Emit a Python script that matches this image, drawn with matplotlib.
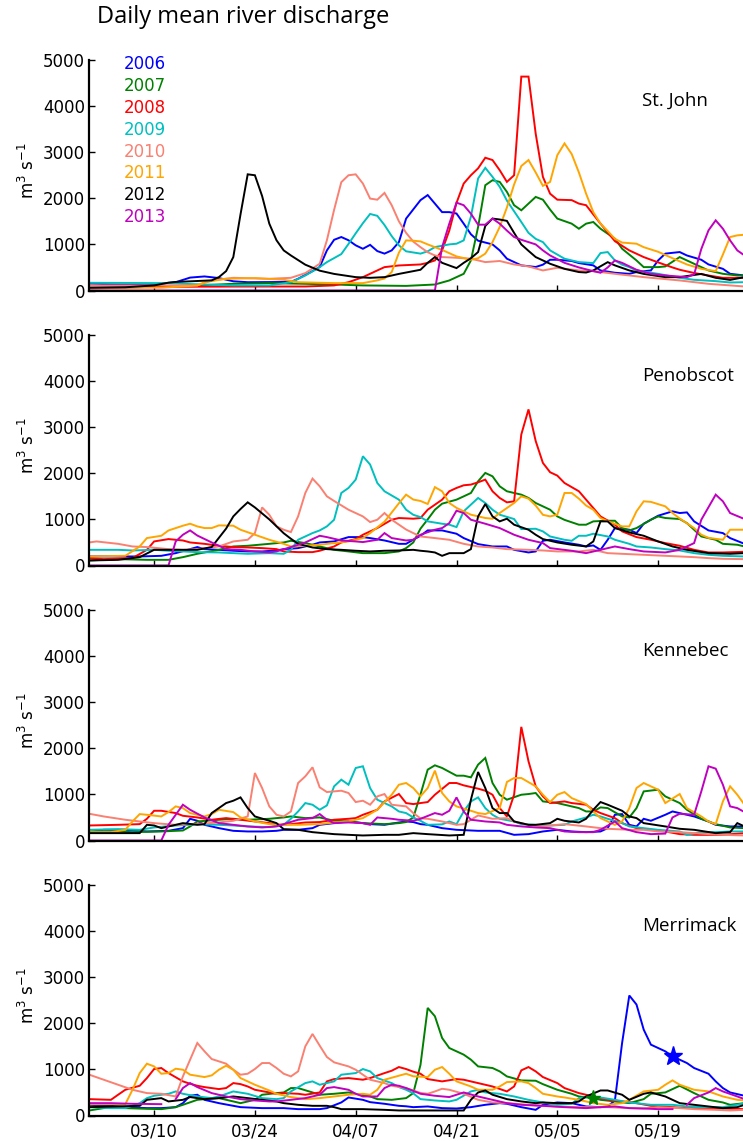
import datetime as dt
import numpy as np
import matplotlib
matplotlib.use("Agg")
import matplotlib.pyplot as plt

# Daily mean discharge (m3/s), given as (day since 03/01, value) pairs.
# 2013 is zero before its record starts; nan marks a gap in the record.
nan = float("nan")

st_john_2006 = [(0,150),(4,130),(8,120),(12,180),(14,280),(16,305),(18,270),(20,200),(22,180),(28,185),(29,255),(31,420),(32,510),(33,870),(34,1100),(35,1160),(36,1090),(37,980),(38,905),(39,990),(40,855),(41,800),(42,870),(43,1050),(44,1560),(46,1960),(47,2070),(48,1885),(49,1700),(50,1700),(51,1670),(52,1450),(53,1220),(54,1080),(56,1000),(57,870),(58,690),(60,545),(62,510),(63,560),(64,667),(65,667),(67,640),(68,595),(70,545),(71,435),(73,385),(75,362),(76,400),(78,435),(79,652),(80,800),(82,834),(83,760),(85,667),(86,565),(88,470),(89,362),(91,326)]
st_john_2007 = [(0,45),(5,60),(10,87),(15,110),(20,145),(25,160),(30,145),(34,130),(38,110),(44,100),(48,130),(50,218),(52,362),(53,652),(54,1378),(55,2284),(56,2392),(57,2356),(58,2140),(59,1850),(60,1740),(61,1885),(62,2030),(63,1970),(64,1755),(65,1560),(67,1450),(68,1340),(69,1450),(70,1486),(71,1340),(73,1124),(74,906),(76,652),(77,507),(79,507),(80,522),(82,725),(83,652),(85,507),(86,435),(88,362),(90,326),(91,326)]
st_john_2008 = [(0,60),(10,80),(20,85),(30,87),(34,110),(36,180),(38,290),(40,435),(41,507),(43,543),(46,565),(47,600),(48,652),(49,870),(50,1300),(51,1900),(52,2320),(53,2500),(54,2650),(55,2880),(56,2830),(57,2610),(58,2356),(59,2500),(60,4640),(61,4640),(62,3400),(63,2465),(64,2100),(65,1970),(67,1960),(68,1885),(69,1850),(70,1650),(71,1450),(72,1260),(73,1070),(75,870),(77,725),(79,610),(81,500),(82,450),(84,380),(86,326),(88,275),(91,275)]
st_john_2009 = [(0,167),(10,160),(20,110),(25,110),(28,180),(30,325),(32,507),(33,616),(35,790),(36,1010),(37,1240),(38,1460),(39,1660),(40,1620),(41,1420),(42,1180),(43,980),(44,850),(46,800),(47,850),(48,942),(50,1000),(51,1015),(52,1087),(53,1600),(54,2430),(55,2660),(56,2465),(57,2250),(58,1950),(60,1486),(61,1250),(62,1120),(63,1050),(64,870),(66,690),(68,616),(70,595),(71,812),(72,834),(73,652),(74,560),(75,507),(76,435),(79,362),(82,275),(84,232),(87,203),(89,174),(91,180)]
st_john_2010 = [(0,110),(15,110),(17,218),(20,275),(25,254),(28,275),(30,377),(32,580),(33,1090),(34,1750),(35,2350),(36,2500),(37,2520),(38,2320),(39,1994),(40,1970),(41,2117),(42,1850),(43,1500),(44,1250),(45,1060),(46,940),(47,830),(48,760),(49,725),(51,710),(53,690),(55,616),(57,640),(59,565),(61,522),(63,435),(65,493),(68,435),(70,420),(73,362),(77,290),(82,218),(86,145),(91,87)]
st_john_2011 = [(0,58),(10,60),(15,110),(16,180),(19,254),(23,268),(27,232),(29,180),(34,160),(38,160),(40,220),(41,260),(42,400),(43,820),(44,1087),(45,1080),(46,1065),(47,1000),(48,940),(49,880),(51,740),(53,667),(54,700),(55,800),(56,1050),(57,1378),(58,1800),(59,2300),(60,2700),(61,2830),(62,2560),(63,2270),(64,2356),(65,2935),(66,3190),(67,2960),(68,2560),(69,2100),(70,1700),(71,1450),(72,1290),(73,1120),(74,1040),(76,1015),(77,940),(79,840),(81,700),(83,565),(85,470),(87,420),(88,780),(89,1160),(90,1196),(91,1210)]
st_john_2012 = [(0,60),(5,70),(9,110),(11,170),(12,185),(17,220),(18,290),(19,420),(20,725),(21,1650),(22,2520),(23,2500),(24,2050),(25,1450),(26,1090),(27,870),(28,760),(29,660),(30,560),(32,430),(34,360),(37,290),(39,275),(41,290),(43,360),(45,420),(46,450),(47,600),(48,725),(49,600),(51,486),(52,600),(53,700),(54,834),(55,1400),(56,1560),(57,1540),(58,1510),(59,1250),(60,1000),(61,860),(62,725),(64,580),(66,470),(68,400),(69,390),(70,435),(72,615),(73,545),(75,435),(77,360),(80,290),(82,290),(85,360),(87,275),(89,230),(91,290)]
st_john_2013 = [(0,0),(48,0),(49,940),(50,1450),(51,1906),(52,1850),(53,1667),(54,1428),(55,1428),(56,1560),(57,1450),(58,1300),(59,1160),(60,1100),(62,1000),(63,870),(64,760),(66,600),(68,500),(70,420),(71,385),(72,500),(73,652),(74,600),(76,450),(78,362),(80,326),(83,290),(84,350),(85,900),(86,1305),(87,1522),(88,1340),(89,1087),(90,870),(91,760)]

penobscot_2006 = [(0,196),(7,196),(10,210),(12,268),(14,355),(15,400),(16,355),(18,340),(20,320),(22,305),(24,305),(26,326),(27,355),(29,377),(31,450),(32,500),(34,522),(36,616),(38,616),(39,595),(41,543),(43,470),(44,470),(45,560),(46,645),(47,761),(49,761),(51,689),(52,595),(54,464),(56,413),(58,413),(59,340),(61,283),(62,305),(63,536),(64,558),(66,500),(68,450),(69,413),(70,435),(71,340),(72,558),(73,812),(75,776),(76,703),(77,906),(79,1080),(81,1175),(82,1138),(83,1152),(84,957),(86,761),(88,703),(89,595),(91,470)]
penobscot_2007 = [(0,109),(4,138),(8,123),(11,123),(13,181),(15,254),(18,340),(20,413),(22,428),(25,470),(27,500),(28,536),(30,486),(32,413),(34,340),(36,305),(38,268),(41,268),(43,305),(44,377),(45,500),(46,800),(47,1000),(48,1210),(49,1341),(51,1428),(52,1500),(53,1573),(54,1827),(55,2008),(56,1935),(57,1718),(58,1610),(60,1537),(61,1465),(62,1356),(64,1210),(65,1065),(66,990),(68,885),(69,885),(70,957),(72,971),(73,971),(74,812),(75,761),(76,812),(78,993),(79,1065),(80,1030),(82,1008),(83,920),(84,776),(85,630),(87,558),(88,470),(90,450),(91,413)]
penobscot_2008 = [(0,160),(2,138),(6,160),(8,340),(9,522),(11,573),(13,543),(14,500),(16,470),(18,428),(20,400),(22,391),(24,377),(26,355),(27,305),(29,290),(31,290),(32,320),(34,413),(35,500),(37,573),(38,667),(40,812),(42,993),(43,1030),(45,1015),(46,1030),(47,1210),(49,1428),(50,1610),(51,1682),(52,1740),(53,1755),(54,1805),(55,1863),(56,1610),(57,1465),(58,1370),(59,1392),(60,2842),(61,3386),(62,2700),(63,2225),(64,2023),(65,1950),(66,1790),(68,1610),(69,1428),(70,1247),(71,1065),(73,885),(74,740),(76,616),(78,558),(80,486),(82,428),(84,340),(86,283),(88,283),(91,297)]
penobscot_2009 = [(0,340),(4,340),(6,326),(9,340),(11,320),(13,305),(15,290),(18,283),(20,268),(22,254),(25,268),(27,254),(28,340),(29,558),(31,703),(32,761),(33,848),(34,993),(35,1573),(36,1682),(37,1863),(38,2370),(39,2190),(40,1790),(41,1610),(43,1428),(44,1210),(45,1100),(46,1050),(47,957),(49,906),(50,885),(51,834),(52,1175),(54,1465),(55,1356),(56,1210),(57,1102),(59,1008),(60,790),(62,797),(63,740),(64,630),(66,558),(67,536),(68,645),(69,645),(70,689),(72,630),(73,558),(75,470),(76,413),(78,391),(80,355),(82,326),(84,268),(86,232),(88,210),(91,196)]
penobscot_2010 = [(0,500),(1,522),(4,470),(6,413),(8,400),(11,355),(13,340),(15,355),(18,413),(20,522),(22,558),(23,703),(24,1260),(25,1100),(26,850),(27,776),(28,725),(29,1065),(30,1573),(31,1885),(32,1718),(33,1500),(34,1400),(36,1210),(38,1065),(39,942),(40,993),(41,1138),(42,993),(44,780),(45,703),(46,630),(48,595),(50,558),(52,470),(54,413),(56,391),(58,355),(61,340),(63,326),(65,305),(68,305),(70,340),(72,268),(75,246),(77,232),(79,217),(82,196),(84,181),(86,160),(88,145),(91,138)]
penobscot_2011 = [(0,196),(5,210),(7,413),(8,595),(10,645),(11,760),(13,863),(14,906),(15,848),(16,812),(17,812),(18,870),(20,863),(21,776),(23,667),(25,558),(27,470),(28,413),(30,428),(32,450),(34,486),(36,522),(38,595),(39,703),(41,950),(42,1150),(43,1350),(44,1537),(45,1430),(46,1400),(47,1334),(48,1700),(49,1610),(50,1356),(51,1250),(53,1102),(55,1030),(56,1015),(57,1138),(59,1356),(60,1500),(61,1450),(62,1300),(63,1100),(64,1065),(65,1102),(66,1573),(67,1573),(68,1450),(69,1300),(70,1210),(71,1030),(72,960),(74,848),(75,848),(76,1175),(77,1392),(78,1380),(80,1283),(81,1138),(82,1020),(84,812),(85,667),(86,600),(88,558),(89,776),(91,776)]
penobscot_2012 = [(0,109),(4,123),(7,181),(9,340),(12,340),(15,340),(17,400),(18,600),(19,800),(20,1065),(21,1225),(22,1370),(23,1260),(24,1130),(25,1000),(26,850),(27,700),(28,580),(29,470),(31,391),(33,355),(35,340),(37,320),(39,305),(41,320),(43,326),(45,340),(46,320),(47,305),(48,283),(49,210),(50,268),(52,268),(53,355),(54,1065),(55,1334),(56,1065),(57,957),(58,1015),(59,885),(61,776),(62,667),(63,573),(65,500),(67,450),(69,413),(70,522),(71,957),(72,957),(73,812),(75,718),(77,645),(79,522),(81,413),(83,340),(86,268),(89,254),(91,268)]
penobscot_2013 = [(0,0),(11,0),(12,522),(13,667),(14,761),(15,650),(17,500),(19,355),(21,340),(23,305),(25,283),(26,305),(28,400),(30,500),(32,645),(33,616),(35,543),(37,522),(38,508),(40,558),(41,703),(42,595),(44,543),(45,558),(46,667),(48,776),(49,812),(50,920),(51,1189),(52,1138),(53,993),(55,906),(57,812),(59,667),(61,558),(63,486),(64,377),(67,320),(69,268),(71,340),(73,413),(75,355),(77,305),(80,283),(82,340),(84,486),(85,993),(87,1537),(88,1392),(89,1138),(91,1008)]

kennebec_2006 = [(0,181),(2,232),(5,232),(8,196),(11,210),(13,268),(14,471),(15,428),(16,340),(18,268),(20,210),(22,196),(24,196),(26,210),(27,232),(29,232),(31,268),(32,340),(34,377),(36,413),(38,377),(39,355),(41,340),(43,391),(44,413),(45,400),(46,355),(47,340),(49,268),(51,232),(54,210),(57,210),(59,123),(61,138),(63,196),(65,232),(67,196),(69,181),(71,196),(72,268),(73,558),(74,573),(75,340),(76,305),(77,471),(78,428),(80,558),(81,630),(83,558),(84,522),(86,413),(87,340),(89,305),(91,305)]
kennebec_2007 = [(0,196),(4,196),(6,181),(10,196),(13,217),(14,305),(15,413),(18,450),(20,471),(22,450),(25,471),(27,500),(28,522),(30,486),(32,500),(34,428),(36,413),(38,377),(41,355),(43,377),(44,400),(45,500),(46,1000),(47,1537),(48,1631),(49,1573),(51,1406),(52,1406),(53,1370),(54,1646),(55,1790),(56,1247),(57,993),(58,885),(60,993),(61,1008),(62,1030),(63,848),(65,812),(66,776),(68,703),(69,630),(70,630),(71,718),(72,703),(74,522),(75,500),(76,703),(77,1065),(79,1102),(80,957),(82,812),(83,667),(85,471),(87,355),(89,283),(91,268)]
kennebec_2008 = [(0,326),(4,340),(7,355),(8,471),(9,645),(10,645),(12,595),(13,536),(15,500),(17,450),(19,486),(21,450),(23,413),(25,377),(26,340),(28,355),(30,391),(32,400),(34,450),(36,471),(37,486),(38,558),(40,667),(41,848),(43,1008),(44,812),(45,790),(47,834),(48,993),(50,1247),(51,1247),(52,1196),(54,1124),(55,1080),(56,993),(57,703),(58,522),(59,993),(60,2465),(61,1718),(62,1175),(63,957),(64,812),(66,848),(67,812),(69,776),(70,667),(71,595),(73,486),(74,377),(76,268),(78,232),(80,196),(82,138),(84,123),(88,123),(91,160)]
kennebec_2009 = [(0,232),(4,246),(7,232),(9,283),(12,326),(14,340),(15,355),(18,340),(20,326),(22,305),(25,290),(27,340),(28,471),(29,630),(30,812),(31,776),(32,667),(33,761),(34,1175),(35,1320),(36,1210),(37,1573),(38,1610),(39,1138),(40,885),(42,740),(43,630),(44,595),(45,500),(46,428),(47,340),(49,350),(50,413),(51,355),(52,630),(53,848),(54,935),(55,703),(56,558),(57,471),(59,413),(60,355),(62,340),(64,326),(66,340),(67,413),(69,500),(70,558),(71,522),(72,471),(74,377),(75,305),(77,268),(79,232),(82,196),(83,123),(85,181),(87,181),(89,196),(91,196)]
kennebec_2010 = [(0,580),(2,522),(5,450),(7,413),(9,377),(12,340),(14,355),(16,370),(18,391),(20,428),(22,522),(23,1464),(24,1138),(25,740),(26,558),(27,522),(28,630),(29,1247),(30,1392),(31,1588),(32,1153),(33,1051),(35,1080),(36,1030),(37,834),(38,863),(39,776),(40,957),(41,1008),(42,776),(44,740),(45,595),(46,480),(47,471),(49,413),(51,340),(52,355),(54,543),(56,471),(58,486),(59,413),(61,340),(63,305),(65,340),(66,355),(69,305),(71,268),(72,254),(75,232),(77,232),(79,196),(82,181),(84,160),(86,138),(88,123),(91,109)]
kennebec_2011 = [(0,181),(3,181),(5,232),(6,413),(7,573),(8,558),(10,522),(11,616),(12,740),(13,703),(14,595),(16,522),(17,573),(18,667),(20,616),(21,500),(23,413),(25,355),(27,340),(29,340),(32,355),(34,391),(36,413),(38,486),(40,667),(42,993),(43,1210),(44,1247),(45,1138),(46,960),(47,1138),(48,1515),(49,1030),(50,848),(51,740),(53,645),(54,595),(55,573),(57,703),(58,1269),(59,1356),(60,1356),(62,1175),(63,993),(64,834),(65,993),(66,1051),(67,920),(69,790),(70,630),(71,486),(73,340),(74,413),(75,703),(76,1138),(77,1247),(79,1102),(80,812),(82,1008),(83,703),(85,522),(86,413),(87,355),(88,848),(89,1175),(90,993),(91,776)]
kennebec_2012 = [(0,160),(7,160),(8,340),(9,326),(10,268),(12,340),(13,377),(15,340),(16,355),(17,595),(19,812),(20,863),(21,935),(22,703),(23,522),(25,428),(26,377),(27,246),(29,232),(31,181),(34,138),(36,123),(38,109),(41,123),(43,123),(45,160),(47,138),(50,109),(52,123),(53,885),(54,1486),(55,1138),(56,703),(57,595),(58,595),(59,413),(61,340),(62,340),(64,377),(65,471),(66,428),(68,391),(69,471),(70,667),(71,834),(72,776),(74,645),(75,522),(76,486),(77,377),(80,305),(82,254),(84,232),(87,160),(89,181),(90,377),(91,305)]
kennebec_2013 = [(0,0),(10,0),(11,340),(12,558),(13,776),(14,667),(16,500),(18,377),(20,340),(22,305),(24,283),(26,305),(27,355),(29,450),(31,486),(32,573),(33,450),(34,377),(36,391),(38,377),(39,340),(40,500),(42,471),(43,450),(45,428),(46,471),(48,595),(49,558),(50,645),(51,935),(52,630),(53,450),(55,413),(57,391),(58,340),(60,305),(62,283),(64,268),(66,196),(68,181),(70,181),(71,232),(73,413),(74,268),(76,181),(78,138),(80,150),(81,500),(82,580),(84,558),(85,1065),(86,1610),(87,1559),(88,1210),(89,740),(90,703),(91,616)]

merrimack_2006 = [(0,232),(3,210),(5,181),(8,160),(10,160),(12,181),(13,268),(14,428),(15,450),(16,340),(18,268),(20,210),(21,181),(24,160),(27,160),(29,138),(32,138),(33,160),(35,283),(36,391),(38,340),(39,290),(41,254),(43,210),(44,200),(45,181),(47,196),(49,160),(51,152),(53,181),(55,232),(57,268),(58,254),(60,181),(62,123),(63,232),(65,283),(67,268),(69,196),(71,181),(72,196),(73,326),(74,1573),(75,2603),(76,2407),(77,1863),(78,1537),(80,1392),(81,1283),(83,1138),(84,1030),(86,906),(87,740),(88,595),(89,500),(91,428)]
merrimack_2007 = [(0,109),(2,160),(3,181),(5,160),(8,145),(10,138),(12,181),(13,232),(15,340),(16,355),(18,377),(20,305),(21,268),(23,340),(24,450),(26,486),(27,500),(28,595),(29,595),(31,500),(32,450),(34,471),(36,500),(37,471),(39,413),(40,355),(42,340),(44,377),(45,486),(46,1100),(47,2334),(48,2153),(49,1682),(50,1464),(52,1320),(53,1211),(54,1065),(56,1030),(57,957),(58,848),(60,761),(62,754),(63,680),(65,558),(67,471),(68,413),(70,377),(71,340),(73,305),(75,268),(77,355),(78,471),(80,500),(82,645),(84,486),(86,340),(88,283),(89,232),(91,268)]
merrimack_2008 = [(0,355),(3,340),(4,450),(5,558),(7,645),(8,812),(9,1008),(10,1030),(11,920),(13,740),(14,689),(15,645),(16,616),(18,573),(19,595),(20,703),(21,681),(22,630),(23,558),(25,500),(26,471),(27,486),(29,471),(30,450),(32,500),(33,740),(34,790),(36,812),(38,776),(39,812),(41,920),(42,971),(43,1051),(44,1008),(45,950),(46,906),(47,790),(49,740),(51,790),(52,776),(54,703),(56,630),(58,522),(59,630),(60,979),(61,1051),(62,957),(63,834),(65,703),(66,595),(68,486),(70,413),(72,340),(74,305),(76,268),(78,210),(81,181),(83,160),(86,160),(88,152),(91,138)]
merrimack_2009 = [(0,181),(3,160),(5,160),(7,268),(8,377),(9,428),(11,471),(12,522),(13,471),(15,413),(17,377),(18,413),(20,522),(22,471),(24,377),(26,355),(27,377),(28,522),(30,703),(31,740),(32,667),(34,740),(35,885),(37,920),(38,1008),(39,957),(40,812),(42,703),(43,616),(44,558),(45,480),(46,355),(48,326),(50,305),(51,340),(53,522),(54,558),(55,500),(57,471),(59,413),(61,340),(63,283),(65,232),(67,254),(68,377),(70,413),(71,391),(73,340),(75,283),(78,232),(81,232),(83,196),(85,181),(88,181),(90,232),(91,268)]
merrimack_2010 = [(0,885),(2,776),(4,667),(6,558),(8,486),(10,471),(12,413),(13,848),(14,1211),(15,1573),(16,1392),(17,1225),(19,1124),(20,993),(21,885),(22,906),(23,1008),(24,1138),(25,1138),(26,1030),(27,906),(28,848),(29,957),(30,1500),(31,1769),(32,1515),(33,1269),(34,1153),(36,1065),(37,993),(38,885),(39,776),(41,703),(42,645),(44,595),(45,543),(46,490),(47,471),(48,522),(49,580),(50,558),(52,471),(54,340),(56,283),(58,268),(61,232),(63,210),(65,196),(68,181),(72,181),(75,160),(77,152),(79,181),(82,160),(84,138),(87,123),(89,109),(91,123)]
merrimack_2011 = [(0,246),(5,246),(6,558),(7,920),(8,1124),(9,1065),(10,906),(11,920),(12,1015),(13,993),(14,885),(16,834),(17,870),(18,993),(19,1080),(20,993),(21,812),(23,667),(25,543),(26,471),(28,400),(30,355),(32,377),(34,413),(36,450),(38,471),(39,450),(40,558),(41,776),(43,863),(44,906),(45,850),(47,834),(48,993),(49,1051),(50,906),(51,740),(53,630),(54,558),(56,558),(57,630),(58,725),(60,740),(61,703),(62,595),(63,471),(65,413),(66,391),(68,340),(70,268),(72,232),(74,268),(75,340),(77,522),(79,558),(80,667),(81,761),(82,667),(84,558),(86,522),(88,413),(90,340),(91,326)]
merrimack_2012 = [(0,181),(7,210),(8,340),(10,377),(11,305),(13,340),(14,400),(16,355),(18,377),(20,413),(22,377),(24,340),(26,305),(27,268),(29,232),(31,210),(33,210),(34,181),(35,138),(38,138),(41,123),(43,109),(48,109),(52,109),(53,340),(54,500),(55,543),(56,450),(58,355),(60,305),(62,268),(63,283),(65,268),(67,268),(68,305),(69,413),(71,543),(72,543),(74,450),(75,340),(77,471),(78,500),(80,413),(82,268),(84,232),(86,196),(88,160),(90,181),(91,232)]
merrimack_2013 = [(0,268),(3,268),(6,254),(10,246),(11,nan),(12,355),(13,595),(14,703),(15,616),(17,486),(19,413),(21,355),(23,326),(25,305),(26,305),(28,340),(30,377),(32,450),(33,595),(34,616),(36,558),(37,471),(38,413),(40,413),(41,595),(42,667),(43,645),(44,595),(46,471),(48,428),(50,400),(52,500),(54,413),(56,340),(58,268),(60,232),(63,210),(66,181),(69,160),(71,181),(73,196),(75,160),(77,152),(79,138),(81,138),(82,nan),(83,232),(84,377),(86,500),(87,595),(88,522),(90,413),(91,355)]

years = [2006, 2007, 2008, 2009, 2010, 2011, 2012, 2013]
colors = ["b", "g", "r", "c", "salmon", "orange", "k", "m"]
rivers = ["St. John", "Penobscot", "Kennebec", "Merrimack"]
river_series = [
    [st_john_2006, st_john_2007, st_john_2008, st_john_2009,
     st_john_2010, st_john_2011, st_john_2012, st_john_2013],
    [penobscot_2006, penobscot_2007, penobscot_2008, penobscot_2009,
     penobscot_2010, penobscot_2011, penobscot_2012, penobscot_2013],
    [kennebec_2006, kennebec_2007, kennebec_2008, kennebec_2009,
     kennebec_2010, kennebec_2011, kennebec_2012, kennebec_2013],
    [merrimack_2006, merrimack_2007, merrimack_2008, merrimack_2009,
     merrimack_2010, merrimack_2011, merrimack_2012, merrimack_2013],
]

# markers on the Merrimack panel: (year, day since 03/01, marker size)
star_points = [(2007, 70, 11), (2006, 81, 14)]

tick_days = [9, 23, 37, 51, 65, 79]
start = dt.date(2001, 3, 1)
tick_labels = [(start + dt.timedelta(days=d)).strftime("%m/%d") for d in tick_days]

W, H = 743, 1141
fig = plt.figure(figsize=(W / 100, H / 100), dpi=100)

ax_left = 89.3 / W
ax_width = 655.2 / W
ax_tops = [60, 335, 610, 885]
ax_h = 230.5

for k, (river, series) in enumerate(zip(rivers, river_series)):
    top = ax_tops[k]
    ax = fig.add_axes([ax_left, 1 - (top + ax_h) / H, ax_width, ax_h / H])
    for s, col in zip(series, colors):
        arr = np.array(s, dtype=float)
        ax.plot(arr[:, 0], arr[:, 1], color=col, lw=1.4, solid_joinstyle="miter")

    if k == 3:
        for yr, day, ms in star_points:
            arr = np.array(series[years.index(yr)], dtype=float)
            ok = ~np.isnan(arr[:, 1])
            yv = np.interp(day, arr[ok, 0], arr[ok, 1])
            ax.plot(day, yv, marker="*", color=colors[years.index(yr)],
                    markersize=ms, zorder=5)

    ax.set_xlim(0, 91)
    ax.set_ylim(0, 5000)
    ax.set_yticks(range(0, 5001, 1000))
    ax.set_xticks(tick_days)
    if k == 3:
        ax.set_xticklabels(tick_labels)
    else:
        ax.set_xticklabels([])
    for side in ("top", "right"):
        ax.spines[side].set_visible(False)
    for side in ("left", "bottom"):
        ax.spines[side].set_linewidth(1.6)
    ax.tick_params(direction="in", length=4, width=1, labelsize=12,
                   colors="black")
    ax.tick_params(axis="x", pad=5)
    ax.tick_params(axis="y", pad=3)
    ax.set_ylabel(r"m$^3$ s$^{-1}$", fontsize=12)
    ax.yaxis.set_label_coords(-0.079, 0.52)

    fig.text(642 / W, 1 - (top + 46) / H, river, fontsize=13.5,
             family="Open Sans", va="baseline", ha="left")

fig.text(97 / W, 1 - 23.3 / H, "Daily mean river discharge", fontsize=17,
         family="Open Sans", va="baseline", ha="left")

for i, (yr, col) in enumerate(zip(years, colors)):
    fig.text(124 / W, 1 - (69 + 21.9 * i) / H, str(yr), color=col,
             fontsize=12, va="baseline", ha="left")

fig.savefig("out.png", dpi=100)
